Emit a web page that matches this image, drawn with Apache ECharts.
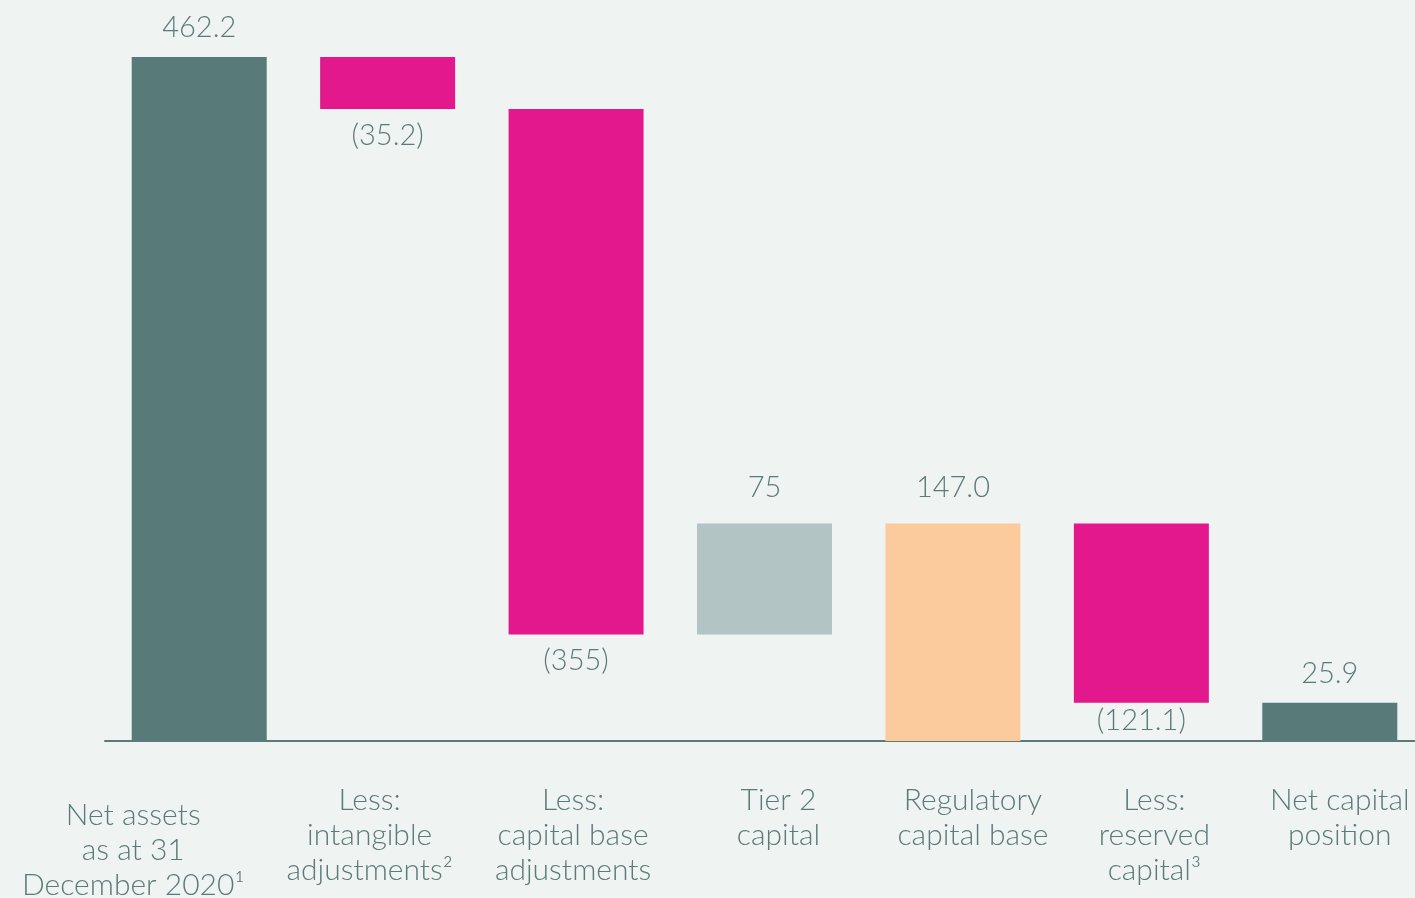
<!DOCTYPE html>
<html><head><meta charset="utf-8">
<script src="https://cdn.jsdelivr.net/npm/echarts@6/dist/echarts.min.js"></script>
<style>html,body{margin:0;padding:0;background:#eff4f2;}#c{width:1415px;height:898px;}</style>
</head><body><div id="c"></div>
<script>
const categories = [
  'Net assets\nas at 31\nDecember 2020¹',
  'Less:\nintangible\nadjustments²',
  'Less:\ncapital base\nadjustments',
  'Tier 2\ncapital',
  'Regulatory\ncapital base',
  'Less:\nreserved\ncapital³',
  'Net capital\nposition'
];
const values = [462.2, -35.2, -355, 75, 147.0, -121.1, 25.9];
const kinds = ['total', 'delta', 'delta', 'delta', 'total', 'delta', 'total'];
const valueLabels = ['462.2', '(35.2)', '(355)', '75', '147.0', '(121.1)', '25.9'];
const colors = ['#587a78', '#e2188c', '#e2188c', '#b2c4c4', '#fbcb9e', '#e2188c', '#587a78'];
const labelShift = [-66, -18, -3, 14, 20, 13, 10];
const labelDrop = [15, 0, 0, 0, 0, 0, 0];
const labelGap = [15, 12, 12, 21, 21, 3, 15];

const textColor = '#5b7a79';
const font = 'Lato, "Open Sans", sans-serif';

// waterfall bases
let running = 0;
const baseData = [], barData = [];
values.forEach((v, i) => {
  let low, high;
  if (kinds[i] === 'total') { low = 0; high = v; running = v; }
  else { const next = running + v; low = Math.min(running, next); high = Math.max(running, next); running = next; }
  baseData.push(low);
  const neg = v < 0;
  barData.push({
    value: high - low,
    itemStyle: { color: colors[i] },
    label: {
      show: true,
      position: neg ? 'bottom' : 'top',
      distance: labelGap[i],
      formatter: valueLabels[i]
    }
  });
});

const catData = categories.map((c, i) => {
  const s = labelShift[i];
  return {
    value: c,
    textStyle: { padding: [labelDrop[i], s < 0 ? -2 * s : 0, 0, s > 0 ? 2 * s : 0] }
  };
});

const chart = echarts.init(document.getElementById('c'));
chart.setOption({
  backgroundColor: '#eff4f2',
  animation: false,
  grid: { left: 105, top: 57, width: 1319, height: 684, outerBoundsMode: 'none', containLabel: false },
  xAxis: {
    type: 'category',
    data: catData,
    axisLine: { show: true, lineStyle: { color: '#5b7a79', width: 2 } },
    axisTick: { show: false },
    axisLabel: {
      interval: 0, color: textColor, fontSize: 30, fontWeight: 300, fontFamily: font,
      lineHeight: 35, margin: 42, verticalAlign: 'top'
    }
  },
  yAxis: { type: 'value', min: 0, max: 462.2, show: false, splitLine: { show: false } },
  series: [
    { type: 'bar', stack: 'w', data: baseData, itemStyle: { color: 'transparent' }, barWidth: 135, silent: true },
    {
      type: 'bar', stack: 'w', data: barData, barWidth: 135,
      label: { color: textColor, fontSize: 29, fontWeight: 300, fontFamily: font }
    }
  ]
});
</script></body></html>
